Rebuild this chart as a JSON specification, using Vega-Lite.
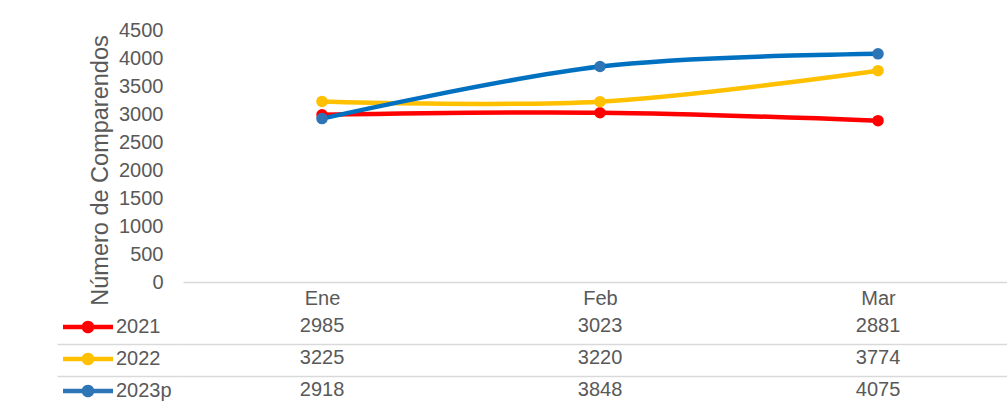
{
  "$schema": "https://vega.github.io/schema/vega-lite/v6.json",
  "width": 824,
  "height": 372,
  "autosize": {"type": "none"},
  "padding": {"left": 183, "top": 30, "right": 0, "bottom": 0},
  "background": "white",
  "config": {
    "font": "Liberation Sans",
    "view": {"stroke": null},
    "axis": {"labelColor": "#595959", "titleColor": "#595959", "labelFont": "Liberation Sans", "titleFont": "Liberation Sans"}
  },
  "data": {
    "values": [
      {"mes": "Ene", "serie": "2021", "valor": 2985},
      {"mes": "Feb", "serie": "2021", "valor": 3023},
      {"mes": "Mar", "serie": "2021", "valor": 2881},
      {"mes": "Ene", "serie": "2022", "valor": 3225},
      {"mes": "Feb", "serie": "2022", "valor": 3220},
      {"mes": "Mar", "serie": "2022", "valor": 3774},
      {"mes": "Ene", "serie": "2023p", "valor": 2918},
      {"mes": "Feb", "serie": "2023p", "valor": 3848},
      {"mes": "Mar", "serie": "2023p", "valor": 4075}
    ]
  },
  "resolve": {"scale": {"y": "independent"}, "axis": {"y": "independent"}},
  "layer": [
    {
      "layer": [
        {
          "mark": {"type": "line", "interpolate": "cardinal", "strokeWidth": 4.5},
          "encoding": {
            "x": {
              "field": "mes", "type": "ordinal", "sort": ["Ene", "Feb", "Mar"],
              "scale": {"type": "point", "padding": 0.482, "align": 0.5187},
              "axis": {"orient": "bottom", "offset": -120, "title": null, "labelAngle": 0, "ticks": false, "grid": false,
                       "domainColor": "#d9d9d9", "domainWidth": 1.5, "labelFontSize": 20, "labelPadding": 6}
            },
            "y": {
              "field": "valor", "type": "quantitative",
              "scale": {"domain": [-2142.857, 4500], "nice": false, "zero": false},
              "axis": {"values": [0, 500, 1000, 1500, 2000, 2500, 3000, 3500, 4000, 4500], "format": "d", "grid": false, "domain": false, "ticks": false,
                       "labelPadding": 20, "labelFontSize": 20, "labelOverlap": false,
                       "title": "Número de Comparendos", "titleFontSize": 23.5, "titleFontWeight": "normal", "titlePadding": 6, "titleY": 140}
            },
            "color": {
              "field": "serie", "type": "nominal",
              "scale": {"domain": ["2021", "2022", "2023p"], "range": ["#FF0000", "#FFC000", "#0070C0"]},
              "legend": {
                "orient": "none", "legendX": -120, "legendY": 287, "title": null, "padding": 0,
                "symbolType": "M-2.5,-0.225H2.5V0.225H-2.5Z M-0.63,0 C-0.63,-0.348 -0.348,-0.63 0,-0.63 C0.348,-0.63 0.63,-0.348 0.63,0 C0.63,0.348 0.348,0.63 0,0.63 C-0.348,0.63 -0.63,0.348 -0.63,0 Z",
                "symbolSize": 400, "symbolStrokeWidth": 0, "symbolOffset": 15, "labelOffset": 18,
                "labelFontSize": 20, "labelColor": "#595959", "labelFont": "Liberation Sans", "rowPadding": 12,
                "encode": {"symbols": {"update": {"fill": {"scale": "color", "field": "value"}, "stroke": {"value": "transparent"}, "opacity": {"value": 1}}}}
              }
            }
          }
        },
        {
          "mark": {"type": "point", "filled": true, "size": 133, "opacity": 1},
          "encoding": {
            "x": {"field": "mes", "type": "ordinal", "sort": ["Ene", "Feb", "Mar"]},
            "y": {"field": "valor", "type": "quantitative"},
            "fill": {
              "field": "serie", "type": "nominal",
              "scale": {"domain": ["2021", "2022", "2023p"], "range": ["#FF0000", "#FFC000", "#2E75B6"]},
              "legend": null
            }
          }
        }
      ]
    },
    {
      "layer": [
        {
          "mark": {"type": "text", "fontSize": 20, "color": "#595959", "align": "center", "baseline": "middle", "dy": 4},
          "encoding": {
            "x": {"field": "mes", "type": "ordinal", "sort": ["Ene", "Feb", "Mar"]},
            "y": {
              "field": "serie", "type": "nominal",
              "scale": {"type": "band", "domain": ["2021", "2022", "2023p"], "range": [276, 372], "paddingInner": 0, "paddingOuter": 0},
              "axis": {"orient": "left", "values": ["2022", "2023p"], "bandPosition": 0.1875, "labels": false, "domain": false,
                       "ticks": true, "tickSize": 126, "tickColor": "#d9d9d9", "tickWidth": 1.5,
                       "grid": true, "gridColor": "#d9d9d9", "gridWidth": 1.5, "title": null}
            },
            "text": {"field": "valor", "type": "quantitative"}
          }
        }
      ]
    }
  ]
}
